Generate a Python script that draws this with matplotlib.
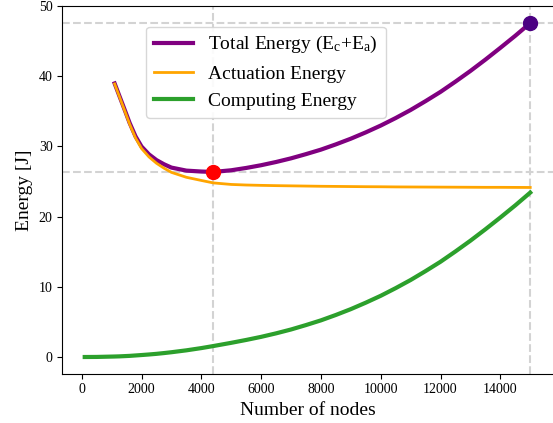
import matplotlib
matplotlib.use('Agg')
import matplotlib.pyplot as plt
import numpy as np

plt.rcParams.update({'font.family': ['Liberation Serif', 'DejaVu Serif'],
                     'mathtext.fontset': 'stix'})

# data
nodes = [100, 500, 1000, 1100, 1250, 1400, 1600, 1800, 2000, 2250, 2500, 2750,
         3000, 3500, 4000, 4400, 5000, 5500, 6000, 6500, 7000, 7500, 8000,
         8500, 9000, 9500, 10000, 10500, 11000, 11500, 12000, 12500, 13000,
         13500, 14000, 14500, 15000]
actuation = [np.nan, np.nan, np.nan, 38.9, 37.2, 35.5, 33.2, 31.2, 29.7, 28.5,
             27.6, 26.9, 26.3, 25.6, 25.15, 24.8, 24.58, 24.5, 24.45, 24.41,
             24.38, 24.35, 24.32, 24.3, 24.28, 24.26, 24.25, 24.23, 24.22,
             24.21, 24.2, 24.19, 24.18, 24.17, 24.17, 24.16, 24.15]
computing = [0.0, 0.01, 0.06, 0.07, 0.09, 0.12, 0.16, 0.22, 0.28, 0.36, 0.45,
             0.56, 0.68, 0.95, 1.27, 1.56, 2.02, 2.43, 2.87, 3.37, 3.92, 4.55,
             5.22, 5.99, 6.82, 7.74, 8.72, 9.81, 10.97, 12.24, 13.57, 15.04,
             16.57, 18.19, 19.87, 21.6, 23.42]

x = np.array(nodes)
act = np.array(actuation)
comp = np.array(computing)
total = act + comp

W, H = 553, 423
fig = plt.figure(figsize=(W / 100, H / 100), dpi=100)
ax = fig.add_axes([62.3 / W, (H - 373.7) / H, 492 / W, (373.7 - 6) / H])

ax.plot(x, total, color='purple', lw=3, label='Total Energy ($\\mathregular{E_c}$+$\\mathregular{E_a}$)', zorder=3)
ax.plot(x, act, color='orange', lw=2, label='Actuation Energy', zorder=3)
ax.plot(x, comp, color='tab:green', lw=3, label='Computing Energy', zorder=3)

i_min = np.nanargmin(total)
i_max = np.nanargmax(total)
for i in (i_min, i_max):
    ax.axhline(total[i], color='lightgray', ls='--', lw=1.5, zorder=1)
    ax.axvline(x[i], color='lightgray', ls='--', lw=1.5, zorder=1)
ax.plot(x[i_min], total[i_min], 'o', color='red', ms=10, zorder=5)
ax.plot(x[i_max], total[i_max], 'o', color='indigo', ms=10, zorder=5)

ax.set_xlim(-650, 15805)
ax.set_xlabel('Number of nodes', fontsize=14)
ax.set_ylabel('Energy [J]', fontsize=14)
ax.tick_params(labelsize=10)
ax.set_yticks([0, 10, 20, 30, 40, 50])
ax.spines['right'].set_visible(False)  # falls outside the crop in the original

ax.legend(loc='upper left', bbox_to_anchor=(0.17, 0.944), borderaxespad=0,
          fontsize=14, handlelength=2.0, framealpha=0.9, edgecolor='lightgray')

fig.savefig('out.png', dpi=100)
